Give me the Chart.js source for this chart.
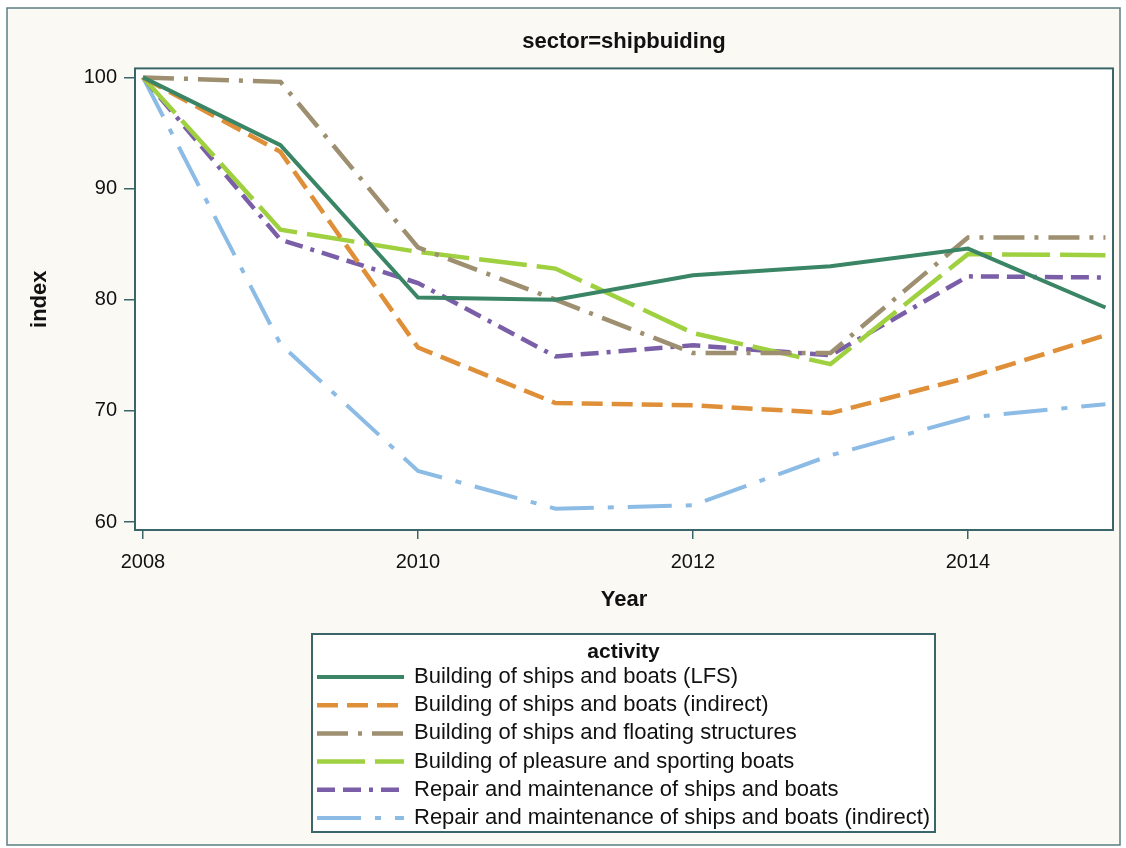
<!DOCTYPE html>
<html>
<head>
<meta charset="utf-8">
<title>sector=shipbuiding</title>
<script src="https://cdn.jsdelivr.net/npm/chart.js@4.4.1/dist/chart.umd.min.js"></script>
<style>
  html, body { margin: 0; padding: 0; background: #fff; }
  canvas { display: block; }
</style>
</head>
<body>
<canvas id="chart" width="1126" height="848"></canvas>
<script>
// values
const years = [2008, 2009, 2010, 2011, 2012, 2013, 2014, 2015];
const xTicks = [2008, 2010, 2012, 2014];
const yTicks = [60, 70, 80, 90, 100];

const activities = [
  'Building of ships and boats (LFS)',
  'Building of ships and boats (indirect)',
  'Building of ships and floating structures',
  'Building of pleasure and sporting boats',
  'Repair and maintenance of ships and boats',
  'Repair and maintenance of ships and boats (indirect)'
];

const shipsLfs       = [100, 93.9, 80.2, 80.0, 82.2, 83.0, 84.6, 79.3];
const shipsIndirect  = [100, 93.3, 75.7, 70.7, 70.5, 69.8, 73.0, 76.8];
const floating       = [100, 99.6, 84.7, 80.0, 75.2, 75.2, 85.6, 85.6];
const pleasure       = [100, 86.3, 84.3, 82.8, 77.0, 74.2, 84.1, 84.0];
const repair         = [100, 85.4, 81.5, 74.9, 75.9, 75.0, 82.1, 82.0];
const repairIndirect = [100, 76.0, 64.6, 61.2, 61.5, 66.0, 69.4, 70.6];

const FONT = "'Liberation Sans', Arial, sans-serif";
const AXIS = '#3b6669';
const INK = '#111';

const styles = [
  { color: '#3a8566', dash: [], width: 4 },
  { color: '#df8f38', dash: [21, 9], width: 4.5 },
  { color: '#9d8f6f', dash: [31, 10, 4, 10], width: 4.5 },
  { color: '#9fd040', dash: [48, 10], width: 4.5 },
  { color: '#7a5fa8', dash: [18, 8, 18, 8, 4, 8], width: 4.5 },
  { color: '#8cbbe6', dash: [44, 14, 6, 14], width: 4 }
];

const series = [shipsLfs, shipsIndirect, floating, pleasure, repair, repairIndirect];

const datasets = series.map((vals, i) => ({
  label: activities[i],
  data: years.map((yr, j) => ({ x: yr, y: vals[j] })),
  borderColor: styles[i].color,
  borderDash: styles[i].dash,
  borderWidth: styles[i].width,
  borderCapStyle: 'butt',
  pointRadius: 0,
  tension: 0,
  fill: false
}));

const framePlugin = {
  id: 'frame',
  beforeDraw(chart) {
    const { ctx, chartArea: a } = chart;
    ctx.save();
    ctx.fillStyle = '#fff';
    ctx.fillRect(0, 0, chart.width, chart.height);
    ctx.fillStyle = '#fbf9f4';
    ctx.fillRect(7, 8, 1113, 837);
    ctx.strokeStyle = '#5b7e81';
    ctx.lineWidth = 1.5;
    ctx.strokeRect(7, 8, 1113, 837);
    ctx.fillStyle = '#fff';
    ctx.fillRect(a.left, a.top, a.right - a.left, a.bottom - a.top);
    ctx.restore();
  },
  afterDatasetsDraw(chart) {
    const { ctx, chartArea: a } = chart;
    ctx.save();
    ctx.strokeStyle = AXIS;
    ctx.lineWidth = 2;
    ctx.strokeRect(a.left, a.top, a.right - a.left, a.bottom - a.top);
    ctx.restore();
  }
};

// vertical legend box under the plot, like the SAS output
const legendPlugin = {
  id: 'activityLegend',
  afterDraw(chart) {
    const ctx = chart.ctx;
    const bx = 312, by = 634, bw = 623, bh = 198;
    ctx.save();
    ctx.fillStyle = '#fff';
    ctx.fillRect(bx, by, bw, bh);
    ctx.strokeStyle = AXIS;
    ctx.lineWidth = 2;
    ctx.strokeRect(bx, by, bw, bh);

    ctx.fillStyle = INK;
    ctx.font = 'bold 21px ' + FONT;
    ctx.textAlign = 'center';
    ctx.textBaseline = 'middle';
    ctx.fillText('activity', bx + bw / 2, 652);

    chart.data.datasets.forEach((ds, i) => {
      const y = 677 + i * 28.2;
      ctx.setLineDash(ds.borderDash);
      ctx.strokeStyle = ds.borderColor;
      ctx.lineWidth = ds.borderWidth;
      ctx.lineCap = 'butt';
      ctx.beginPath();
      ctx.moveTo(317, y);
      ctx.lineTo(404, y);
      ctx.stroke();
      ctx.setLineDash([]);
      ctx.fillStyle = INK;
      ctx.font = '22px ' + FONT;
      ctx.textAlign = 'left';
      ctx.fillText(ds.label, 414, y);
    });
    ctx.restore();
  }
};

new Chart(document.getElementById('chart'), {
  type: 'line',
  data: { datasets },
  options: {
    responsive: false,
    animation: false,
    layout: { padding: { left: 0, right: 13, top: 0, bottom: 0 } },
    plugins: {
      legend: { display: false },
      tooltip: { enabled: false },
      title: {
        display: true,
        text: 'sector=shipbuiding',
        fullSize: false,
        color: INK,
        font: { family: FONT, size: 22, weight: 'bold' },
        padding: { top: 29, bottom: 13 }
      }
    },
    scales: {
      x: {
        type: 'linear',
        min: 2007.942,
        max: 2015.055,
        afterBuildTicks: s => { s.ticks = xTicks.map(v => ({ value: v })); },
        afterFit: s => { s.height = 318; },
        grid: { drawOnChartArea: false, drawTicks: true, tickLength: 9, color: AXIS, lineWidth: 1.5 },
        border: { display: false },
        ticks: {
          color: INK, font: { family: FONT, size: 20 }, padding: 11,
          maxRotation: 0, autoSkip: false, callback: v => String(v)
        },
        title: {
          display: true, text: 'Year', color: INK,
          font: { family: FONT, size: 22, weight: 'bold' },
          padding: { top: 0, bottom: 235 }
        }
      },
      y: {
        min: 59.28,
        max: 100.81,
        afterBuildTicks: s => { s.ticks = yTicks.map(v => ({ value: v })); },
        afterFit: s => { s.width = 135; },
        grid: { drawOnChartArea: false, drawTicks: true, tickLength: 11, color: AXIS, lineWidth: 1.5 },
        border: { display: false },
        ticks: { color: INK, font: { family: FONT, size: 20 }, padding: 7, callback: v => String(v) },
        title: {
          display: true, text: 'index', color: INK,
          font: { family: FONT, size: 22, weight: 'bold' },
          padding: { top: 27, bottom: 0 }
        }
      }
    }
  },
  plugins: [framePlugin, legendPlugin]
});
</script>
</body>
</html>
